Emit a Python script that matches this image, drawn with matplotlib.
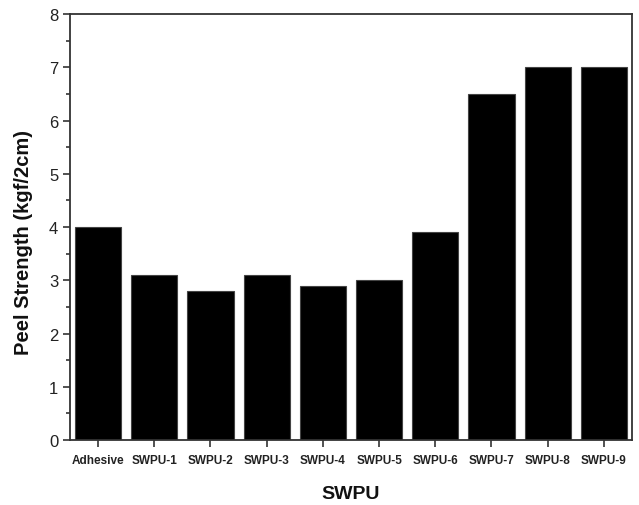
import matplotlib
matplotlib.use("Agg")
import matplotlib.pyplot as plt
from matplotlib.ticker import MultipleLocator

categories = ["Adhesive", "SWPU-1", "SWPU-2", "SWPU-3", "SWPU-4",
              "SWPU-5", "SWPU-6", "SWPU-7", "SWPU-8", "SWPU-9"]
peel_strength = [4.0, 3.1, 2.8, 3.1, 2.9, 3.0, 3.9, 6.5, 7.0, 7.0]

plt.rcParams['font.family'] = ['Liberation Sans', 'DejaVu Sans']

fig = plt.figure(figsize=(6.39, 5.06), dpi=100)
ax = fig.add_axes([0.1095, 0.1285, 0.8795, 0.8415])

x = range(len(categories))
ax.bar(x, peel_strength, width=0.82, color="black", edgecolor="#444444", linewidth=0.8)

ax.set_xlim(-0.5, 9.5)
ax.set_ylim(0, 8)
ax.set_xticks(list(x))
ax.set_xticklabels(categories, fontsize=8.5, fontweight="bold", color="#222222")
ax.yaxis.set_major_locator(MultipleLocator(1))
ax.yaxis.set_minor_locator(MultipleLocator(0.5))
ax.tick_params(axis='y', labelsize=12, colors="#333333", labelcolor="#222222", length=5, width=1.2)
ax.tick_params(axis='y', which='minor', length=3, width=1.2, colors="#333333")
ax.tick_params(axis='x', length=5, width=1.2, colors="#333333", labelcolor="#222222", pad=5)

for side in ["left", "bottom", "top", "right"]:
    ax.spines[side].set_color("#333333")
    ax.spines[side].set_linewidth(1.3)

ax.set_xlabel("SWPU", fontsize=14, fontweight="bold", labelpad=14, color="#111111")
ax.set_ylabel("Peel Strength (kgf/2cm)", fontsize=14.5, fontweight="bold", color="#111111")
ax.yaxis.set_label_coords(-0.066, 0.465)

fig.savefig("out.png", dpi=100)
